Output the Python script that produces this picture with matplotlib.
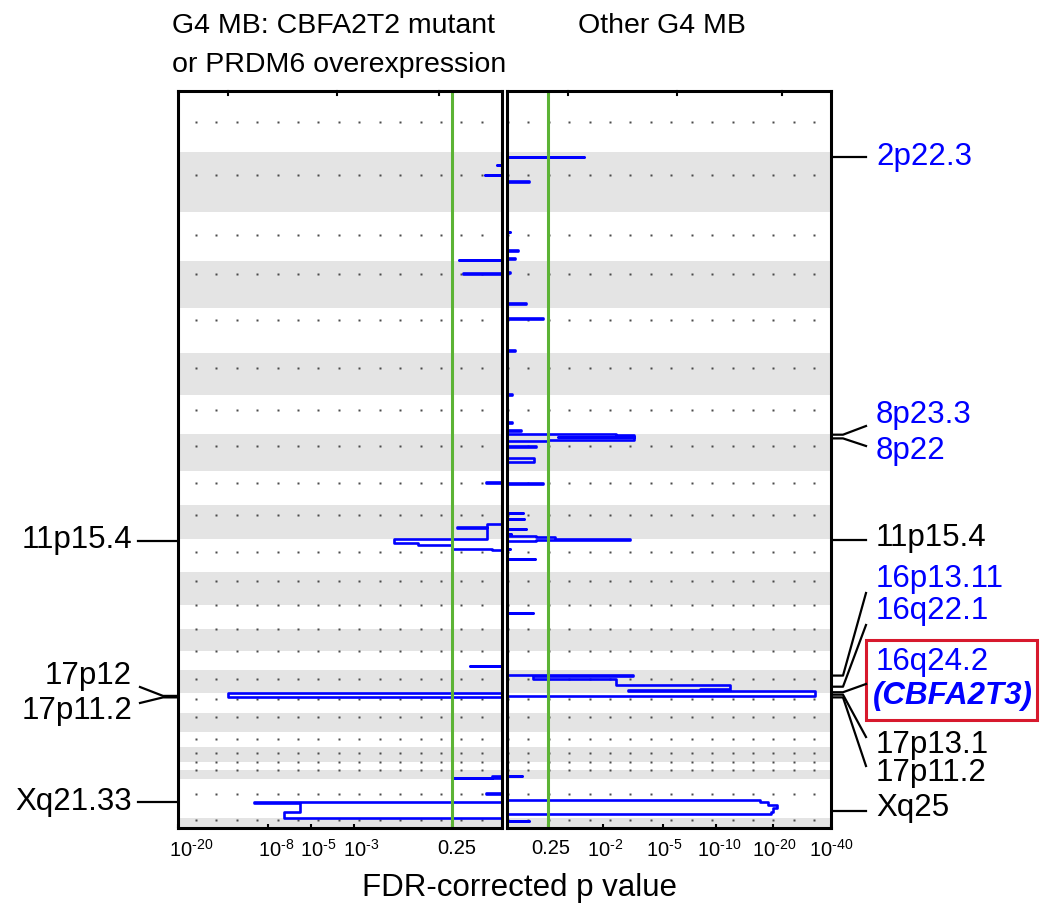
import numpy as np
import matplotlib
matplotlib.use('Agg')
import matplotlib.pyplot as plt
from matplotlib.transforms import blended_transform_factory, ScaledTranslation
from matplotlib.patches import Rectangle
from matplotlib.lines import Line2D

plt.rcParams['font.family'] = ['Liberation Sans', 'DejaVu Sans']
plt.rcParams['mathtext.fontset'] = 'custom'
plt.rcParams['mathtext.rm'] = 'Liberation Sans'
plt.rcParams['mathtext.it'] = 'Liberation Sans:italic'
plt.rcParams['mathtext.bf'] = 'Liberation Sans:bold'

# genome layout (Mb): plotted range and centromere of each chromosome
chroms = ['1', '2', '3', '4', '5', '6', '7', '8', '9', '10', '11', '12',
          '13', '14', '15', '16', '17', '18', '19', '20', '21', '22', 'X', 'Y']
chrom_start = [0, 0, 0, 0, 0, 0, 0, 0, 0, 0, 0, 0,
               19.0, 19.0, 23.0, 0, 0, 0, 0, 0, 14.3, 16.0, 0, 2.6]
chrom_end = [249.25, 243.2, 198.0, 191.15, 180.9, 171.1, 159.1, 146.4, 141.2, 135.5, 135.0, 133.85,
             115.2, 107.35, 102.5, 90.35, 81.2, 78.1, 59.1, 63.0, 48.1, 51.3, 155.3, 45.0]
centromere = [125.0, 93.3, 91.0, 50.4, 48.4, 61.0, 59.9, 45.6, 49.0, 40.2, 53.7, 35.8,
              19.0, 19.0, 23.0, 36.6, 24.0, 17.2, 26.5, 27.5, 14.3, 16.0, 60.6, 12.5]

# -log10(FDR q) segments, G4 MB with CBFA2T2 mutation / PRDM6 overexpression
left_chr = ['2', '2', '3', '4', '9', '10', '10', '10', '11', '11', '11', '11',
            '15', '17', '22', '22', 'X', 'X', 'X', 'X']
left_start = [50, 91, 193, 49, 47.5, 74, 88, 90, 0, 17, 26, 43,
              83, 0.5, 40, 45, 56, 93, 94.5, 132.7]
left_end = [52, 93, 195, 51, 49.5, 88, 90, 135.5, 17, 26, 43, 44,
            85, 17.5, 45, 47, 58, 94.5, 132.7, 155.3]
left_score = [0.05, 0.17, 0.50, 0.44, 0.16, 0.155, 0.53, 0.155, 1.76, 1.2, 0.6, 0.1,
              0.35, 12.1, 0.1, 0.58, 0.16, 9.28, 5.67, 6.76]

# -log10(FDR q) segments, other G4 MB
right_chr = ['2', '2', '3', '3', '3', '4', '4', '5', '5', '6', '7', '7',
             '8', '8', '8', '8', '8', '8', '8', '9',
             '10', '10', '10', '10', '10', '10', '11', '11', '11', '11', '11', '11',
             '13', '16', '16', '16', '16', '16', '16', '16', '17', '22',
             'X', 'X', 'X', 'X', 'X', 'Y']
right_start = [18, 118, 80, 153, 186, 45, 171, 41, 171, 167, 110, 142,
               0.2, 1.5, 10, 12, 21, 48, 96, 52,
               29, 53, 94, 114, 124, 127, 0, 1, 3, 5, 40, 80,
               50.5, 20, 22, 36, 58, 74, 80, 85, 0, 38,
               85, 94, 106, 118, 132, 15]
right_end = [20, 120, 82, 155, 188, 47, 173, 43, 173, 169, 112, 144,
             1.5, 10, 12, 21, 28, 50, 110, 54,
             31, 55, 96, 116, 127, 135.5, 1, 3, 5, 10, 41, 82,
             52.5, 22, 36, 58, 74, 80, 85, 90.35, 13, 40,
             94, 106, 118, 132, 143, 17]
right_score = [1.42, 0.29, 0.03, 0.13, 0.10, 0.03, 0.24, 0.51, 0.10, 0.06, 0.06, 0.17,
               2.5, 3.3, 0.8, 3.3, 0.6, 0.39, 0.37, 0.51,
               0.20, 0.22, 0.24, 0.05, 0.40, 0.73, 0.73, 3.1, 0.73, 0.40, 0.03, 0.38,
               0.35, 3.25, 0.35, 2.5, 11.9, 8.1, 3.0, 33.0, 33.0, 0.19,
               17.1, 18.9, 21.0, 20.2, 19.6, 0.29]

# cytoband labels
left_labels = ['11p15.4', '17p12', '17p11.2', 'Xq21.33']
left_label_chr = ['11', '17', '17', 'X']
left_label_mb = [9, 13, 19, 94]
right_labels = ['2p22.3', '8p23.3', '8p22', '11p15.4', '16p13.11', '16q22.1',
                '16q24.2', '17p13.1', '17p11.2', 'Xq25']
right_label_chr = ['2', '8', '8', '11', '16', '16', '16', '17', '17', 'X']
right_label_mb = [19, 1, 16, 4, 21, 66, 88.5, 8, 19, 127]
right_label_color = ['blue', 'blue', 'blue', 'black', 'blue', 'blue',
                     'blue', 'black', 'black', 'black']

q_cut = 0.25
left_ticks = [20, 8, 5, 3, -np.log10(q_cut)]
left_ticklabels = [r'$10^{\text{-}20}$', r'$10^{\text{-}8}$', r'$10^{\text{-}5}$',
                   r'$10^{\text{-}3}$', '0.25']
right_ticks = [-np.log10(q_cut), 2, 5, 10, 20, 40]
right_ticklabels = ['0.25', r'$10^{\text{-}2}$', r'$10^{\text{-}5}$', r'$10^{\text{-}10}$',
                    r'$10^{\text{-}20}$', r'$10^{\text{-}40}$']

# ---- genome coordinates
sizes = np.array(chrom_end) - np.array(chrom_start)
offsets = np.concatenate([[0], np.cumsum(sizes)[:-1]])
total = sizes.sum()
idx = {c: i for i, c in enumerate(chroms)}


def gpos(c, mb):
    i = idx[c]
    return offsets[i] + mb - chrom_start[i]


def outline(chr_list, starts, ends, scores):
    g0 = np.array([gpos(c, s) for c, s in zip(chr_list, starts)])
    g1 = np.array([gpos(c, e) for c, e in zip(chr_list, ends)])
    xs, ys = [0.0], [0.0]
    last = 0.0
    for i in np.argsort(g0):
        if g0[i] > last + 1e-6:
            xs += [0.0, 0.0]
            ys += [last, g0[i]]
        xs += [scores[i], scores[i]]
        ys += [g0[i], g1[i]]
        last = g1[i]
    xs += [0.0, 0.0]
    ys += [last, total]
    return xs, ys


def fwd(x):
    return np.log10(1 + np.clip(x, -0.99, None))


def inv(y):
    return 10 ** np.asarray(y) - 1


W, H = 1040, 911
fig = plt.figure(figsize=(W / 100, H / 100), dpi=100)


def fx(px):
    return px / W


def fy(py):
    return 1 - py / H


top, bottom = 90.7, 828
ax_l = fig.add_axes([fx(178), fy(bottom), fx(502) - fx(178), fy(top) - fy(bottom)])
ax_r = fig.add_axes([fx(507), fy(bottom), fx(831) - fx(507), fy(top) - fy(bottom)])

panels = [
    (ax_l, left_chr, left_start, left_end, left_score, (20, 0), left_ticks, left_ticklabels,
     np.arange(16) * 0.063 + 0.0556, [0.154, 0.491, 0.806], [13, 8, 7, 7, 5]),
    (ax_r, right_chr, right_start, right_end, right_score, (0, 40), right_ticks, right_ticklabels,
     np.arange(16) * 0.063 + 0.003, [0.188, 0.525, 0.849], [3, 2, 1, 3, 2, 0]),
]

for ax, cl, st, en, sc, xlim, ticks, ticklabels, dot_x, top_ticks, shifts in panels:
    ax.set_xscale('function', functions=(fwd, inv))
    ax.set_xlim(*xlim)
    ax.set_ylim(total, 0)

    for i in range(len(chroms)):
        if i % 2 == 1:
            ax.axhspan(offsets[i], offsets[i] + sizes[i], color='#e4e4e4', lw=0, zorder=0)

    trans = blended_transform_factory(ax.transAxes, ax.transData)
    for i in range(len(chroms)):
        cen = gpos(chroms[i], centromere[i])
        ax.plot(dot_x, [cen] * len(dot_x), ls='none', marker='s', ms=1.9,
                color='#4a4a4a', mec='none', transform=trans, zorder=1)

    xs, ys = outline(cl, st, en, sc)
    ax.plot(xs, ys, color='#0000ff', lw=1.9, zorder=3)
    ax.axvline(-np.log10(q_cut), color='#5cb335', lw=2.2, zorder=4)

    ax.set_yticks([])
    ax.set_xticks(ticks)
    ax.set_xticklabels(ticklabels)
    ax.minorticks_off()
    ax.tick_params(axis='x', direction='in', length=3, width=1.5, labelsize=14.5, pad=8)
    for lab, sh in zip(ax.get_xticklabels(), shifts):
        lab.set_transform(lab.get_transform() + ScaledTranslation(sh / 100, 0, fig.dpi_scale_trans))
    for f in top_ticks:
        ax.plot([f, f], [1, 1 - 4 / 737], transform=ax.transAxes, color='black', lw=1.5, clip_on=False)
    for s in ax.spines.values():
        s.set_linewidth(2.2)
        s.set_zorder(10)

fig.canvas.draw()


def anchor_fy(ax, c, mb):
    disp = ax.transData.transform((0, gpos(c, mb)))
    return fig.transFigure.inverted().transform(disp)[1]


def line(xpix, yfig, color='black'):
    fig.add_artist(Line2D([fx(p) for p in xpix], yfig, color=color, lw=1.6,
                          transform=fig.transFigure))


# titles and axis label
fig.text(fx(172), fy(33), 'G4 MB: CBFA2T2 mutant', ha='left', va='baseline', fontsize=20.5)
fig.text(fx(172), fy(72), 'or PRDM6 overexpression', ha='left', va='baseline', fontsize=20.5)
fig.text(fx(578), fy(33), 'Other G4 MB', ha='left', va='baseline', fontsize=20.5)
fig.text(fx(519), fy(888), 'FDR-corrected p value', ha='center', va='center', fontsize=22.5)

# left labels
left_text_y = [540, 676, 711, 802]
left_elbow = [None, 687, 703, None]
for name, c, mb, ty, ey in zip(left_labels, left_label_chr, left_label_mb, left_text_y, left_elbow):
    a = anchor_fy(ax_l, c, mb)
    if ey is None:
        line([177, 138], [a, a])
    else:
        line([177, 163, 140], [a, a, fy(ey)])
    fig.text(fx(132), fy(ty), name, ha='right', va='center', fontsize=22.5)

# right labels
right_text_y = [157, 415, 451, 538, 579, 611, 662, 745, 773, 808]
right_elbow = [None, 426, 446, None, 593, 625, 684, 737, 766, None]
for name, c, mb, col, ty, ey in zip(right_labels, right_label_chr, right_label_mb,
                                    right_label_color, right_text_y, right_elbow):
    a = anchor_fy(ax_r, c, mb)
    if ey is None:
        line([832, 866], [a, a])
    else:
        line([832, 843, 866], [a, a, fy(ey)])
    fig.text(fx(876), fy(ty), name, ha='left', va='center', fontsize=22.5, color=col)

fig.text(fx(873), fy(696), '(CBFA2T3)', ha='left', va='center', fontsize=22.5,
         color='blue', fontweight='bold', fontstyle='italic')
fig.add_artist(Rectangle((fx(866), fy(720)), fx(1037) - fx(866), fy(640) - fy(720),
                         transform=fig.transFigure, fill=False, edgecolor='#d7192d', lw=2.2))

fig.savefig('out.png', dpi=100)
